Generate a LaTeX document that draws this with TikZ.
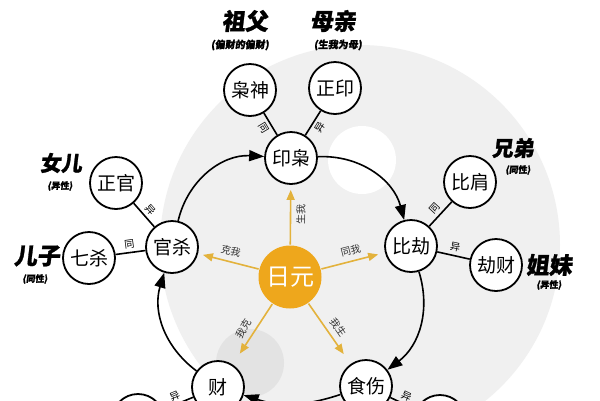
\documentclass[tikz,border=0pt]{standalone}
\usepackage{fontspec}
\newfontfamily\cjk{Noto Sans CJK SC}[BoldFeatures={FakeSlant=0.12,FakeBold=1.2}]
\usepackage{tikz}
\usetikzlibrary{%
  arrows.meta,%
  positioning%
}
\definecolor{sun}{HTML}{EEA71C}
\definecolor{ray}{HTML}{E3B23C}
\newcommand{\zh}[1]{\cjk\fontsize{#1}{#1}\selectfont}

\begin{document}
\begin{tikzpicture}[x=1pt, y=-1pt,
  shen/.style={circle, draw, line width=1.8pt, fill=white, minimum size=52pt, inner sep=0pt, font=\zh{19}},
  kin/.style={font=\zh{23}\bfseries},
  note/.style={font=\zh{10}\bfseries},
  tag/.style={font=\zh{10}, inner sep=3pt, sloped},
  gtag/.style={font=\zh{10}, text=black!80, inner sep=5pt, sloped},
  cyc/.style={line width=1.6pt, -{Triangle[length=15pt,width=11pt]}},
  gold/.style={draw=ray, line width=1.6pt, -{Triangle[length=10pt,width=8pt]}, fill=ray},
  link/.style={line width=1.6pt}]
\useasboundingbox (0,0) rectangle (600,400);
\clip (0,0) rectangle (600,400);
% background
\fill[white] (0,0) rectangle (600,400);
\fill[gray!12] (360,245) circle (200);
\fill[white] (362,160) circle (34);
\fill[gray!22] (250,363) circle (34);

% ten gods
\node[shen] (yinxiao) at (291,158) {印枭};
\node[shen] (xiaoshen) at (250,90) {枭神};
\node[shen] (zhengyin) at (335,88) {正印};
\node[shen] (guansha) at (172,247) {官杀};
\node[shen] (zhengguan) at (116,183) {正官};
\node[shen] (qisha) at (89,258) {七杀};
\node[shen] (bijie) at (411,246) {比劫};
\node[shen] (bijian) at (470,182) {比肩};
\node[shen] (jiecai) at (496,265) {劫财};
\node[shen] (cai) at (218,387) {财};
\node[shen] (shishang) at (366,386) {食伤};
\node[shen] (caileft) at (138,420) {};
\node[shen] (shiright) at (440,421) {};
\node[shen, draw=none, fill=sun, minimum size=63pt, text=white, font=\zh{24}] (riyuan) at (290,277) {日元};

% kin
\node[kin] (zufu) at (245,21) {祖父};
\node[note] (zufunote) at (240,45) {(偏财的偏财)};
\node[kin] (muqin) at (333,21) {母亲};
\node[note] (muqinnote) at (338,45) {(生我为母)};
\node[kin, font=\zh{21}\bfseries] (nver) at (61,163) {女儿};
\node[note, font=\zh{9}\bfseries] (nvernote) at (60,186) {(异性)};
\node[kin] (erzi) at (37,256) {儿子};
\node[note, font=\zh{9}\bfseries] (erzinote) at (35,279) {(同性)};
\node[kin, font=\zh{21}\bfseries] (xiongdi) at (513,148) {兄弟};
\node[note, font=\zh{9}\bfseries] (xiongdinote) at (518,170) {(同性)};
\node[kin] (jiemei) at (549,265) {姐妹};
\node[note, font=\zh{9}\bfseries] (jiemeinote) at (549,285) {(异性)};

\draw[link]
	(xiaoshen) -- node[tag, below]{同} (yinxiao)
	(yinxiao) -- node[tag, below]{异} (zhengyin)
	(zhengguan) -- node[tag, above]{异} (guansha)
	(qisha) -- node[tag, above]{同} (guansha)
	(bijie) -- node[tag, above]{同} (bijian)
	(bijie) -- node[tag, above]{异} (jiecai)
	(caileft) -- node[tag, above]{异} (cai)
	(shishang) -- node[tag, above]{异} (shiright)
;

\draw[cyc] (guansha) to[bend left=40] (yinxiao);
\draw[cyc] (yinxiao) to[bend left=39] (bijie);
\draw[cyc] (bijie) to[bend left=35] (shishang);
\draw[cyc] (shishang) to[bend left=18] (cai);
\draw[cyc] (cai) to[bend left=35] (guansha);

\draw[gold, shorten >=5pt] (riyuan) -- node[gtag, below]{生我} (yinxiao);
\draw[gold, shorten >=5pt] (riyuan) -- node[gtag, above]{克我} (guansha);
\draw[gold, shorten >=7pt] (riyuan) -- node[gtag, above]{同我} (bijie);
\draw[gold, shorten >=13pt] (riyuan) -- node[gtag, above]{我克} (cai);
\draw[gold, shorten >=12pt] (riyuan) -- node[gtag, above]{我生} (shishang);
\end{tikzpicture}
\end{document}
